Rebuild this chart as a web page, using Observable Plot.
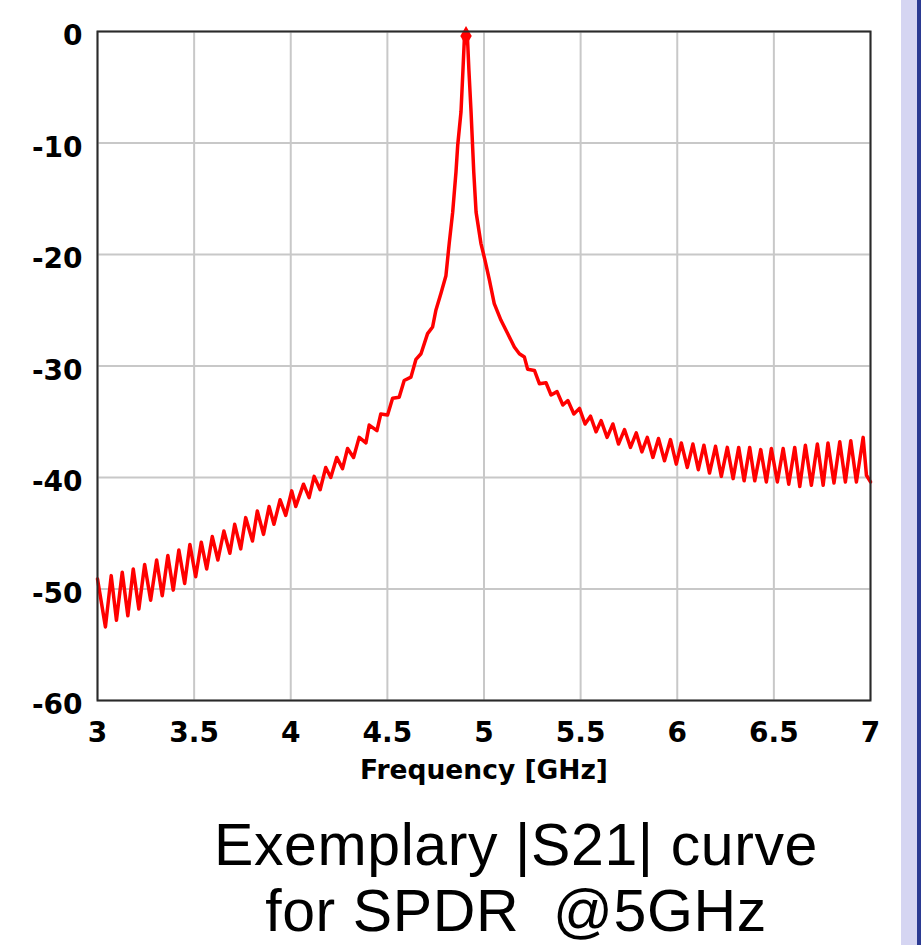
<!DOCTYPE html>
<html>
<head>
<meta charset="utf-8">
<script src="https://cdn.jsdelivr.net/npm/d3@7"></script>
<script src="https://cdn.jsdelivr.net/npm/@observablehq/plot@0.6"></script>
<style>
  html, body { margin: 0; padding: 0; background: #ffffff; }
  #wrap { position: relative; width: 921px; height: 945px; overflow: hidden; background: #ffffff; }
  #chart { position: absolute; left: 0; top: 0; }
  .cap {
    position: absolute; left: 516px; transform: translateX(-50%);
    font-family: "Liberation Sans", Arial, sans-serif; font-size: 59px; line-height: 56px;
    letter-spacing: 0.6px; text-align: center; white-space: nowrap; color: #000;
  }
  #cap1 { top: 817px; }
  #cap2 { top: 883px; }
  #strip { position: absolute; left: 901px; top: 0; width: 16px; height: 945px; background: #d5d5f2; }
  #edge { position: absolute; left: 917px; top: 0; width: 4px; height: 945px; background: #2b3a92; }
</style>
</head>
<body>
<div id="wrap">
  <div id="chart"></div>
  <div class="cap" id="cap1">Exemplary |S21| curve</div>
  <div class="cap" id="cap2">for SPDR&nbsp; @5GHz</div>
  <div id="strip"></div>
  <div id="edge"></div>
</div>
<script>
const freqGHz = [3.000,3.041,3.071,3.098,3.128,3.157,3.185,3.214,3.244,3.275,
  3.306,3.335,3.364,3.392,3.421,3.451,3.478,3.508,3.537,3.565,
  3.594,3.623,3.654,3.685,3.710,3.741,3.767,3.802,3.827,3.859,
  3.888,3.913,3.945,3.974,4.005,4.026,4.066,4.095,4.121,4.152,
  4.181,4.207,4.238,4.268,4.294,4.325,4.354,4.389,4.406,4.446,
  4.466,4.501,4.527,4.561,4.587,4.622,4.648,4.674,4.708,4.734,
  4.751,4.777,4.803,4.820,4.838,4.855,4.864,4.881,4.891,4.899,4.914,
  4.922,4.933,4.947,4.959,4.984,5.005,5.027,5.053,5.088,5.123,
  5.157,5.183,5.209,5.226,5.261,5.287,5.321,5.347,5.378,5.408,
  5.434,5.465,5.494,5.523,5.551,5.580,5.606,5.637,5.667,5.696,
  5.727,5.758,5.788,5.817,5.845,5.874,5.903,5.934,5.965,5.995,
  6.021,6.052,6.081,6.109,6.138,6.167,6.198,6.228,6.259,6.289,
  6.318,6.346,6.375,6.401,6.432,6.461,6.487,6.518,6.548,6.577,
  6.608,6.634,6.663,6.694,6.725,6.755,6.780,6.811,6.841,6.870,
  6.898,6.927,6.962,6.979,7.000];
const s21dB = [-49.1,-53.4,-48.8,-52.8,-48.5,-52.4,-48.2,-51.8,-47.8,-51.0,
  -47.4,-50.6,-47.0,-50.1,-46.5,-49.5,-46.0,-48.9,-45.8,-48.2,
  -45.3,-47.4,-44.8,-46.8,-44.2,-46.4,-43.6,-45.7,-43.0,-45.1,
  -42.6,-44.2,-42.0,-43.4,-41.2,-42.6,-40.6,-41.8,-39.9,-41.1,
  -39.1,-40.0,-38.2,-39.2,-37.4,-38.2,-36.4,-36.9,-35.3,-35.8,
  -34.3,-34.4,-32.9,-32.8,-31.3,-31.0,-29.4,-28.9,-27.1,-26.5,
  -25.0,-23.5,-21.9,-19.0,-16.2,-12.6,-10.2,-7.2,-3.5,-0.4,-0.4,
  -3.5,-7.2,-12.6,-16.2,-19.0,-20.5,-22.2,-24.4,-25.9,-27.1,
  -28.3,-28.9,-29.2,-30.3,-30.4,-31.6,-31.5,-32.6,-32.3,-33.5,
  -33.1,-34.3,-33.8,-35.2,-34.5,-35.9,-34.9,-36.4,-35.2,-37.0,
  -35.7,-37.3,-36.0,-37.7,-36.4,-38.2,-36.5,-38.5,-36.6,-38.8,
  -36.9,-39.1,-37.0,-39.3,-37.1,-39.6,-37.2,-39.9,-37.3,-40.1,
  -37.3,-40.3,-37.3,-40.3,-37.5,-40.4,-37.4,-40.4,-37.4,-40.6,
  -37.3,-40.8,-37.1,-40.7,-37.0,-40.7,-36.9,-40.5,-36.8,-40.4,
  -36.7,-40.4,-36.4,-39.8,-40.4];
const markerFreq = [4.907];
const markerDb = [-0.4];
const xTicks = [3, 3.5, 4, 4.5, 5, 5.5, 6, 6.5, 7];
const yTicks = [0, -10, -20, -30, -40, -50, -60];
const xLabel = "Frequency [GHz]";

const curve = freqGHz.map((f, i) => ({f, db: s21dB[i]}));
const marker = markerFreq.map((f, i) => ({f, db: markerDb[i]}));

const chart = Plot.plot({
  width: 921,
  height: 800,
  marginLeft: 97,
  marginRight: 51,
  marginTop: 31,
  marginBottom: 100,
  style: {fontFamily: "DejaVu Sans", fontWeight: "bold", fontSize: "28px", color: "#000", background: "transparent"},
  x: {domain: [3, 7]},
  y: {domain: [-60, 0]},
  marks: [
    Plot.gridX(xTicks, {stroke: "#c8c8c8", strokeOpacity: 1, strokeWidth: 2}),
    Plot.gridY(yTicks, {stroke: "#c8c8c8", strokeOpacity: 1, strokeWidth: 2}),
    Plot.axisX({ticks: xTicks, tickSize: 0, tickPadding: 22, fontSize: 28, tickFormat: d => String(d), label: null}),
    Plot.axisY({ticks: yTicks, tickSize: 0, tickPadding: 15, fontSize: 28, dy: 5, tickFormat: d => String(d), label: null}),
    Plot.line(curve, {x: "f", y: "db", stroke: "#ff0000", strokeWidth: 3.5}),
    Plot.dot(marker, {x: "f", y: "db", symbol: "diamond", fill: "#ff0000", r: 6}),
    Plot.frame({stroke: "#2a2a2a", strokeWidth: 2}),
    Plot.text([xLabel], {frameAnchor: "bottom", dy: 78, fontSize: 26.5, fontWeight: "bold", fill: "#000"})
  ]
});
document.getElementById("chart").appendChild(chart);
</script>
</body>
</html>
